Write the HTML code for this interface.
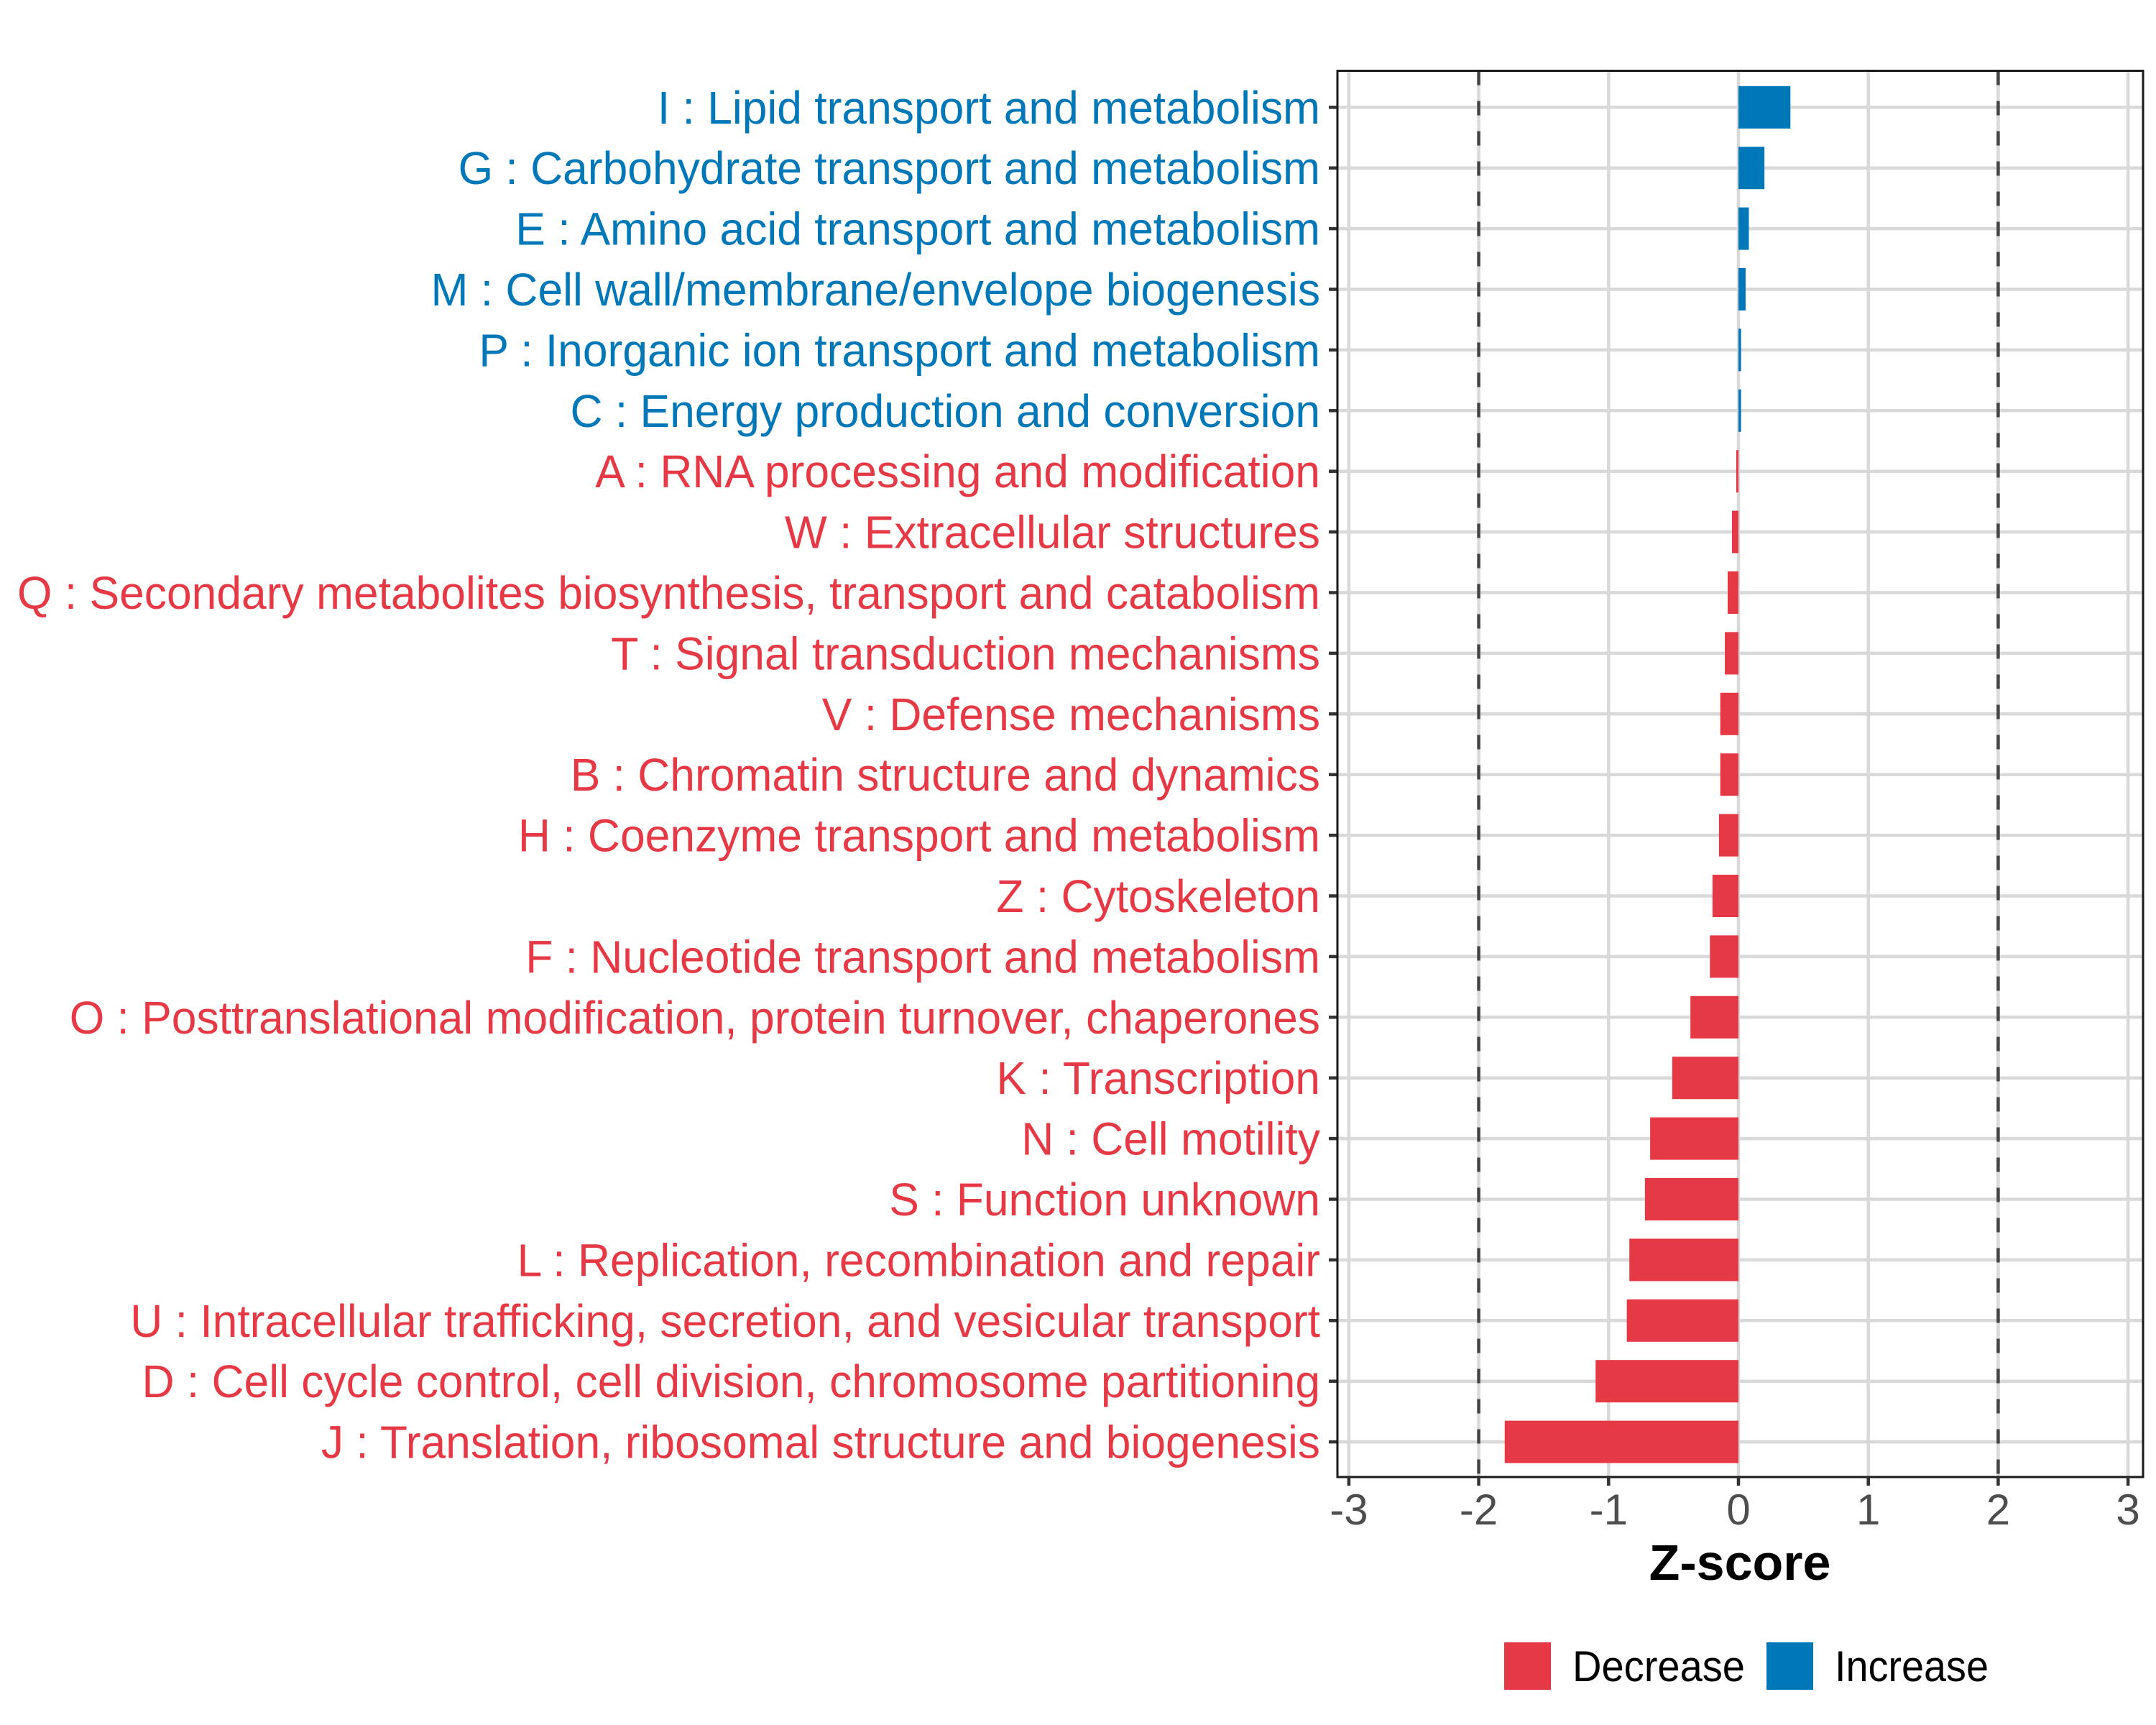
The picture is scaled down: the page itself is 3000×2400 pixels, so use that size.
<!DOCTYPE html>
<html><head><meta charset="utf-8"><style>
html,body{margin:0;padding:0;background:#fff;}
svg{display:block;font-family:"Liberation Sans",Arial,sans-serif;}
</style></head><body>
<svg id="chart" width="3000" height="2400" viewBox="0 0 3000 2400" xmlns="http://www.w3.org/2000/svg"></svg>
<script>
const categories = [
"I : Lipid transport and metabolism",
"G : Carbohydrate transport and metabolism",
"E : Amino acid transport and metabolism",
"M : Cell wall/membrane/envelope biogenesis",
"P : Inorganic ion transport and metabolism",
"C : Energy production and conversion",
"A : RNA processing and modification",
"W : Extracellular structures",
"Q : Secondary metabolites biosynthesis, transport and catabolism",
"T : Signal transduction mechanisms",
"V : Defense mechanisms",
"B : Chromatin structure and dynamics",
"H : Coenzyme transport and metabolism",
"Z : Cytoskeleton",
"F : Nucleotide transport and metabolism",
"O : Posttranslational modification, protein turnover, chaperones",
"K : Transcription",
"N : Cell motility",
"S : Function unknown",
"L : Replication, recombination and repair",
"U : Intracellular trafficking, secretion, and vesicular transport",
"D : Cell cycle control, cell division, chromosome partitioning",
"J : Translation, ribosomal structure and biogenesis"
];
const zscores = [0.40,0.20,0.08,0.055,0.02,0.02,-0.017,-0.05,-0.083,-0.105,-0.14,-0.14,-0.15,-0.20,-0.22,-0.37,-0.51,-0.68,-0.72,-0.84,-0.86,-1.10,-1.80];
const xTicks = [-3,-2,-1,0,1,2,3];
const xTickLabels = ["-3","-2","-1","0","1","2","3"];
const thresholds = [-2,2];
const legendLabels = ["Decrease","Increase"];

const RED="#E63946", BLUE="#0077B6";
const svg=document.getElementById('chart');
const NS="http://www.w3.org/2000/svg";
const P={l:1861,r:2982,t:98.5,b:2055};
const xs=v=>2419+v*180.7;
const ys=i=>149.3+i*84.4;
function mk(tag,attrs,parent){const e=document.createElementNS(NS,tag);for(const k in attrs)e.setAttribute(k,attrs[k]);(parent||svg).appendChild(e);return e;}

xTicks.forEach((t,i)=>{
  const g=mk('line',{x1:xs(t),x2:xs(t),y1:P.t,y2:P.b,stroke:'#d9d9d9','stroke-width':4.5});
  
  
});
categories.forEach((c,i)=>{
  const g=mk('line',{x1:P.l,x2:P.r,y1:ys(i),y2:ys(i),stroke:'#d9d9d9','stroke-width':4.5});
  
  
});
thresholds.forEach(t=>{
  const l=mk('line',{x1:xs(t),x2:xs(t),y1:P.t,y2:P.b,stroke:'#444','stroke-width':4.5,'stroke-dasharray':'20,22'});
  
  
});
const labels=[];
categories.forEach((c,i)=>{
  const v=zscores[i];
  const x0=xs(0),x1=xs(v);
  const r=mk('rect',{x:Math.min(x0,x1),y:ys(i)-29.5,width:Math.abs(x1-x0),height:59,fill:v>=0?BLUE:RED});
  
  
  const tk=mk('line',{x1:1849,x2:P.l,y1:ys(i),y2:ys(i),stroke:'#333','stroke-width':4.5});
  
  
  const tx=mk('text',{x:1837,y:ys(i)+22.5,'text-anchor':'end','font-size':64,fill:v>=0?BLUE:RED});
  tx.textContent=c;
  
  
  labels.push(tx);
});
(function(){
  let maxW=0;labels.forEach(t=>{maxW=Math.max(maxW,t.getComputedTextLength());});
  const ratio=maxW>0?1813/maxW:1;
  labels.forEach(t=>{const w=t.getComputedTextLength();t.setAttribute('textLength',(w*ratio).toFixed(1));t.setAttribute('lengthAdjust','spacingAndGlyphs');});
})();
const pb=mk('rect',{x:P.l,y:P.t,width:P.r-P.l,height:P.b-P.t,fill:'none',stroke:'#1a1a1a','stroke-width':3});


xTicks.forEach((t,i)=>{
  const tk=mk('line',{x1:xs(t),x2:xs(t),y1:P.b,y2:P.b+12,stroke:'#333','stroke-width':4.5});
  
  
  const tl=mk('text',{x:xs(t),y:2121,'text-anchor':'middle','font-size':60,fill:'#4d4d4d'});
  tl.textContent=xTickLabels[i];
  
  
});
const xt=mk('text',{x:2421,y:2198,'text-anchor':'middle','font-size':70,'font-weight':'bold',fill:'#000'});
xt.textContent='Z-score';


const lg=mk('g',{});


const keyX=[2093,2458], txtX=[2188,2553], txtW=[240,214], cols=[RED,BLUE];
legendLabels.forEach((l,i)=>{
  const k=mk('rect',{x:keyX[i],y:2285,width:65,height:66,fill:cols[i]},lg);
  
  
  const t=mk('text',{x:txtX[i],y:2339,'font-size':60,fill:'#000',textLength:txtW[i],lengthAdjust:'spacingAndGlyphs'},lg);
  t.textContent=l;
  
  
});
</script>
</body></html>
